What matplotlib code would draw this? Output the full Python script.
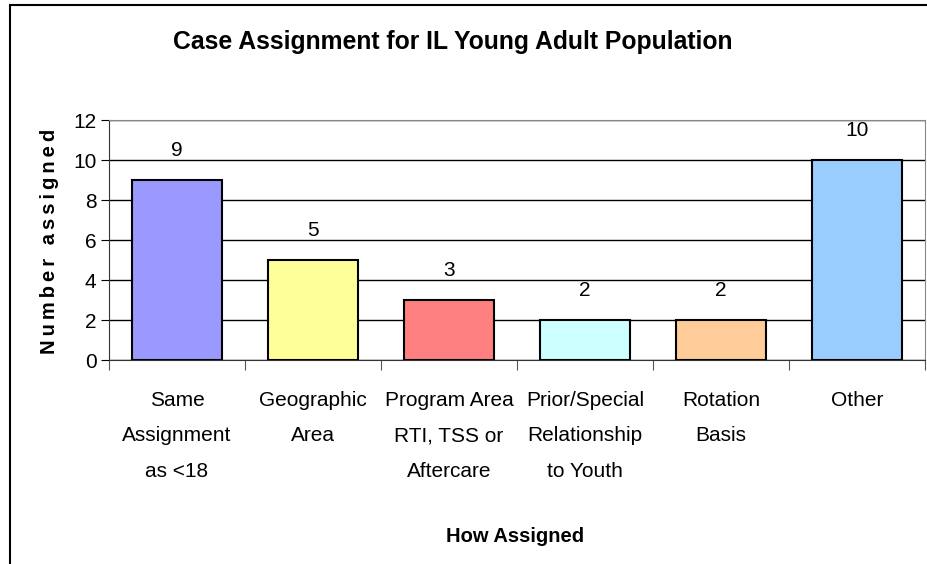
import matplotlib
matplotlib.use("Agg")
import matplotlib.pyplot as plt
from matplotlib.patches import Rectangle
import numpy as np

plt.rcParams['font.family'] = ['Liberation Sans', 'DejaVu Sans']

# data
categories = ["Same\nAssignment\nas <18", "Geographic\nArea", "Program Area\nRTI, TSS or\nAftercare",
              "Prior/Special\nRelationship\nto Youth", "Rotation\nBasis", "Other"]
counts = [9, 5, 3, 2, 2, 10]
bar_colors = ["#9999FF", "#FFFF99", "#FF8080", "#CCFFFF", "#FFCC99", "#99CCFF"]

fig = plt.figure(figsize=(9.27, 5.64), dpi=100)
ax = fig.add_axes([109/927, 1 - 360/564, (925 - 109)/927, 240/564])

x = np.arange(len(categories))
ax.bar(x, counts, width=0.66, color=bar_colors, edgecolor="black", linewidth=1.5, zorder=3)
for xi, v in zip(x, counts):
    ax.text(xi, v + 1.5, str(v), ha="center", va="center", fontsize=15)

ax.set_xlim(-0.5, len(categories) - 0.5)
ax.set_ylim(0, 12)
ax.set_yticks(range(0, 13, 2))
ax.tick_params(axis="y", labelsize=15, length=6, direction="out", pad=3)
ax.yaxis.grid(True, color="black", linewidth=1, zorder=0)

# category ticks sit between bars, labels in the middle
ax.set_xticks(np.arange(-0.5, len(categories), 1.0))
ax.set_xticklabels([])
ax.set_xticks(x, minor=True)
ax.set_xticklabels(categories, minor=True, fontsize=15, linespacing=2.1, va="top")
ax.tick_params(axis="x", which="major", length=7, color="#555555")
ax.tick_params(axis="x", which="minor", length=0, pad=22)

for side in ["top", "right"]:
    ax.spines[side].set_color("#888888")
ax.spines["left"].set_color("#333333")
ax.spines["bottom"].set_color("#333333")

fig.text(453/927, 1 - 42/564, "Case Assignment for IL Young Adult Population",
         ha="center", va="center", fontsize=17.8, fontweight="bold")
ylab = "\u2009".join("Number assigned")
fig.text(50/927, 1 - 241/564, ylab, rotation=90, ha="center", va="center",
         fontsize=14.5, fontweight="bold")
fig.text(515/927, 1 - 536/564, "How Assigned", ha="center", va="center",
         fontsize=14.5, fontweight="bold")

# chart area border, cut off at right and bottom
fig.patches.append(Rectangle((10/927, -0.1), 1.2, 1 - 5/564 + 0.1, transform=fig.transFigure,
                             fill=False, edgecolor="black", linewidth=1.5, clip_on=False))

fig.savefig("out.png", dpi=100)
